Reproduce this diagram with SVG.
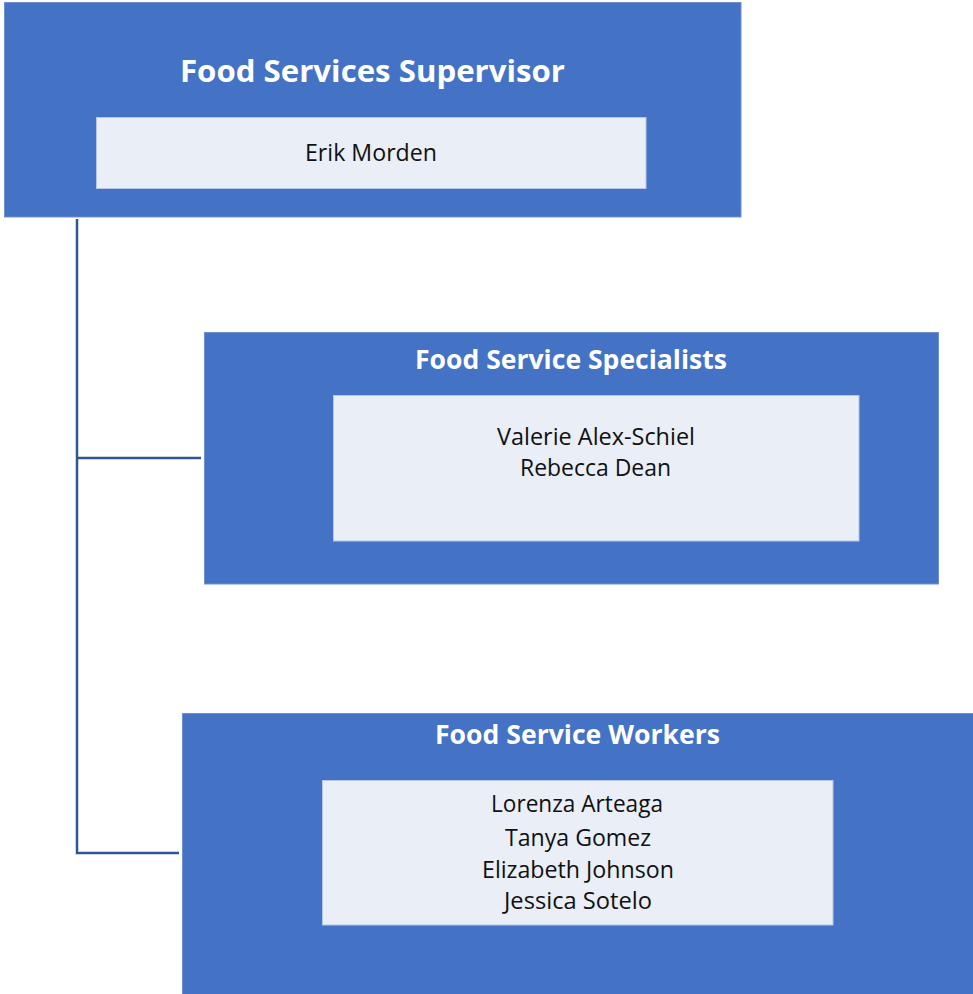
<svg xmlns="http://www.w3.org/2000/svg" width="973" height="994" viewBox="0 0 973 994">
<style>
.outer{fill:#4472C4;stroke:#6F90CF;stroke-width:1}
.inner{fill:#E9EEF7;stroke:#B4C6E7;stroke-width:1}
.title{font-family:"Open Sans","Liberation Sans",sans-serif;font-weight:bold;fill:#FFFFFF;text-anchor:middle}
.name{font-family:"Open Sans","Liberation Sans",sans-serif;fill:#111111;text-anchor:middle;font-size:24px}
.conn{fill:none;stroke:#2F5597;stroke-width:2.5}
</style>
<rect width="973" height="994" fill="#FFFFFF"/>
<g id="connectors">
<path class="conn" d="M77,219 V853 H179"/>
<path class="conn" d="M77,458 H201"/>
</g>
<g id="supervisor">
<rect class="outer" x="4.5" y="2.5" width="736.5" height="214.5"/>
<rect class="inner" x="96.5" y="117.5" width="549.5" height="71"/>
<text class="title" x="372.5" y="82" font-size="31" textLength="385" lengthAdjust="spacingAndGlyphs">Food Services Supervisor</text>
<text class="name" x="371" y="161" textLength="132" lengthAdjust="spacingAndGlyphs">Erik Morden</text>
</g>
<g id="specialists">
<rect class="outer" x="204.5" y="332.5" width="734" height="251.5"/>
<rect class="inner" x="333.5" y="395.5" width="525.5" height="145.5"/>
<text class="title" x="571" y="369" font-size="27" textLength="312" lengthAdjust="spacingAndGlyphs">Food Service Specialists</text>
<text class="name" x="596" y="445" textLength="198" lengthAdjust="spacingAndGlyphs">Valerie Alex-Schiel</text>
<text class="name" x="595.5" y="476" textLength="151" lengthAdjust="spacingAndGlyphs">Rebecca Dean</text>
</g>
<g id="workers">
<rect class="outer" x="182.5" y="713.5" width="791" height="281"/>
<rect class="inner" x="322.5" y="780.5" width="510.5" height="144.5"/>
<text class="title" x="577.5" y="744" font-size="27" textLength="285" lengthAdjust="spacingAndGlyphs">Food Service Workers</text>
<text class="name" x="577" y="812" textLength="172" lengthAdjust="spacingAndGlyphs">Lorenza Arteaga</text>
<text class="name" x="578" y="846" textLength="146" lengthAdjust="spacingAndGlyphs">Tanya Gomez</text>
<text class="name" x="578" y="878" textLength="192" lengthAdjust="spacingAndGlyphs">Elizabeth Johnson</text>
<text class="name" x="578" y="909" textLength="148" lengthAdjust="spacingAndGlyphs">Jessica Sotelo</text>
</g>
</svg>
